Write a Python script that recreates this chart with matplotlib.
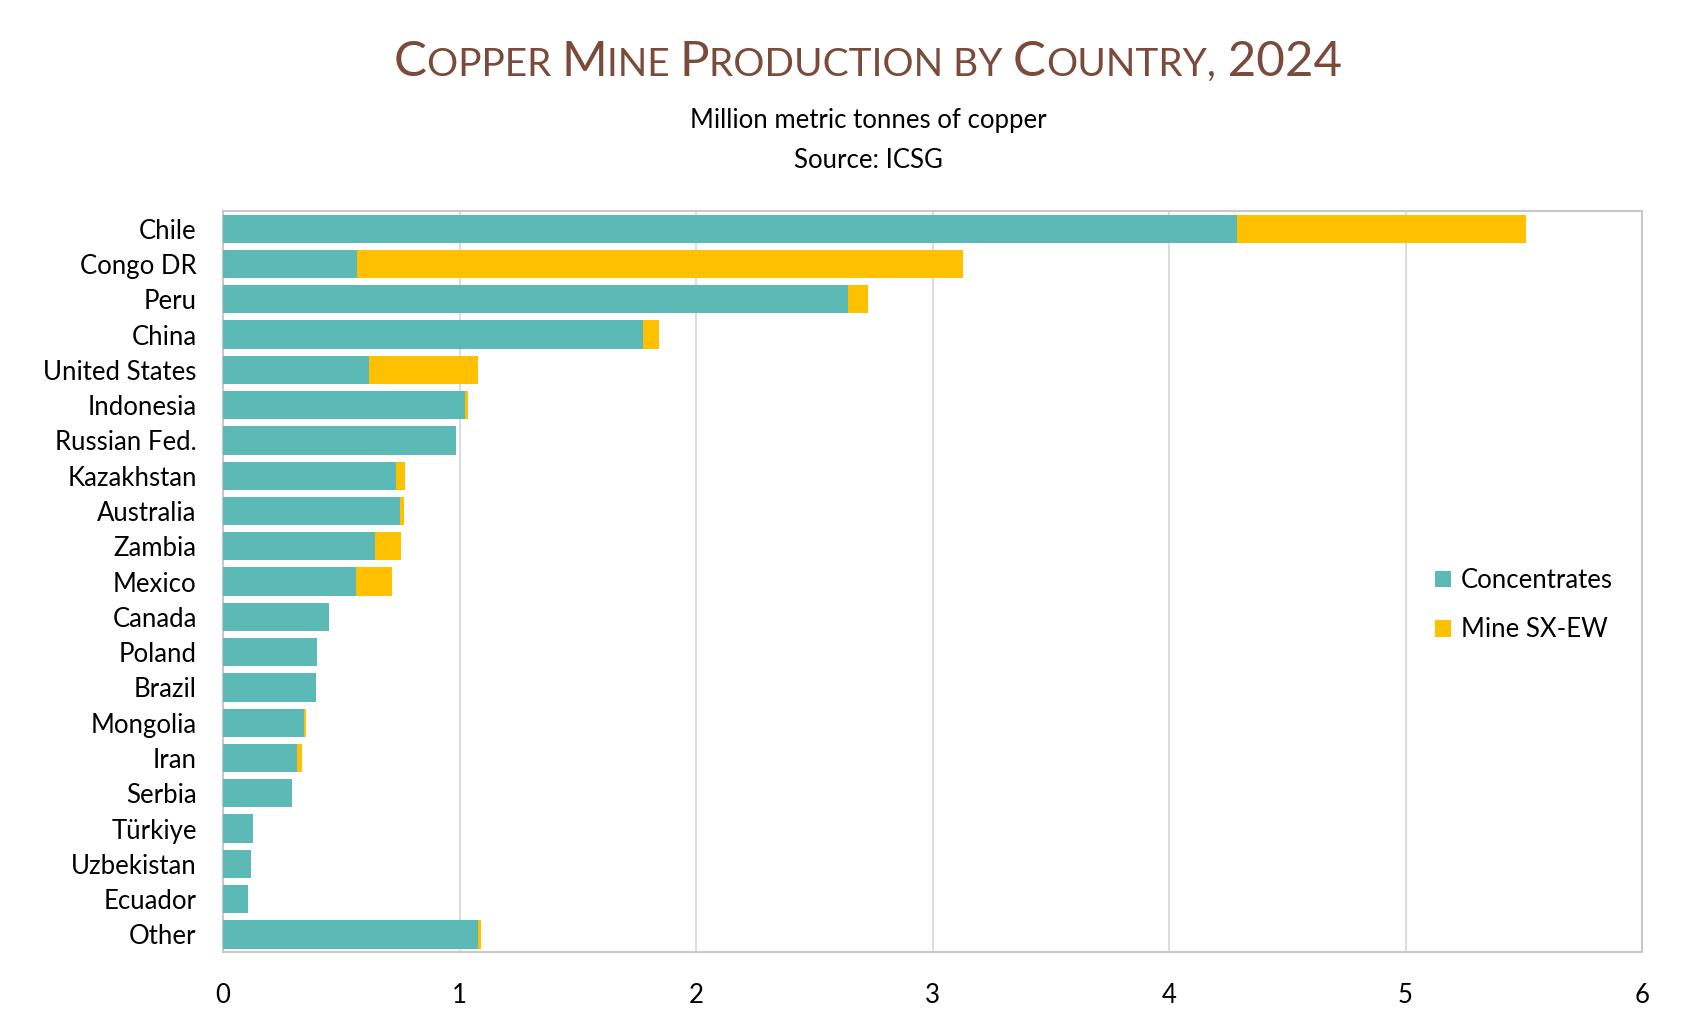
import numpy as np
import matplotlib
matplotlib.use("Agg")
import matplotlib.pyplot as plt
from matplotlib.offsetbox import TextArea, HPacker, AnnotationBbox

plt.rcParams['font.family'] = ['Lato', 'DejaVu Sans']

countries = ["Chile", "Congo DR", "Peru", "China", "United States", "Indonesia",
             "Russian Fed.", "Kazakhstan", "Australia", "Zambia", "Mexico", "Canada",
             "Poland", "Brazil", "Mongolia", "Iran", "Serbia", "Türkiye",
             "Uzbekistan", "Ecuador", "Other"]
concentrates = [4.286, 0.568, 2.641, 1.777, 0.619, 1.024, 0.986, 0.733, 0.750, 0.641,
                0.563, 0.447, 0.397, 0.391, 0.342, 0.313, 0.291, 0.125, 0.120, 0.106, 1.078]
sxew = [1.224, 2.562, 0.087, 0.065, 0.459, 0.012, 0.0, 0.036, 0.015, 0.111,
        0.153, 0.0, 0.0, 0.0, 0.010, 0.022, 0.0, 0.0, 0.0, 0.0, 0.012]

teal = "#5BBAB5"
gold = "#FFC000"
fs = 18.5

fig = plt.figure(figsize=(16.86, 10.30), dpi=100)
ax = fig.add_axes([0.1323, 0.0757, 0.9739 - 0.1323, 0.7951 - 0.0757])

y = np.arange(len(countries))
ax.barh(y, concentrates, height=0.8, color=teal, label="Concentrates", zorder=3)
ax.barh(y, sxew, left=concentrates, height=0.8, color=gold, label="Mine SX-EW", zorder=3)

ax.set_xlim(0, 6)
ax.set_ylim(len(countries) - 0.5, -0.5)
ax.set_yticks(y)
ax.set_yticklabels(countries, fontsize=fs)
ax.set_xticks(range(7))
ax.tick_params(axis='both', length=0, labelsize=fs)
ax.tick_params(axis='y', pad=19)
ax.tick_params(axis='x', pad=22)
ax.grid(axis='x', color="#D9D9D9", linewidth=1.3, zorder=0)
for s in ax.spines.values():
    s.set_color("#C8C8C8")
    s.set_linewidth(1.5)

ax.legend(loc='center left', bbox_to_anchor=(0.838, 0.468), frameon=False,
          fontsize=fs, handlelength=0.6, handleheight=0.6, handletextpad=0.4,
          labelspacing=0.95)

# title in small caps
brown = "#7A4A3A"
big, small = 35.5, 28
parts = [("C", big), ("OPPER ", small), ("M", big), ("INE ", small), ("P", big),
         ("RODUCTION BY ", small), ("C", big), ("OUNTRY,", small), (" 2024", big)]
areas = [TextArea(t, textprops=dict(fontsize=s, color=brown)) for t, s in parts]
pack = HPacker(children=areas, align="baseline", pad=0, sep=0)
ab = AnnotationBbox(pack, (0.515, 0.940), xycoords='figure fraction',
                    frameon=False, box_alignment=(0.5, 0.5))
fig.add_artist(ab)

fig.text(0.515, 0.883, "Million metric tonnes of copper", ha='center', va='center', fontsize=fs)
fig.text(0.515, 0.844, "Source: ICSG", ha='center', va='center', fontsize=fs)

fig.savefig("out.png", dpi=100)
